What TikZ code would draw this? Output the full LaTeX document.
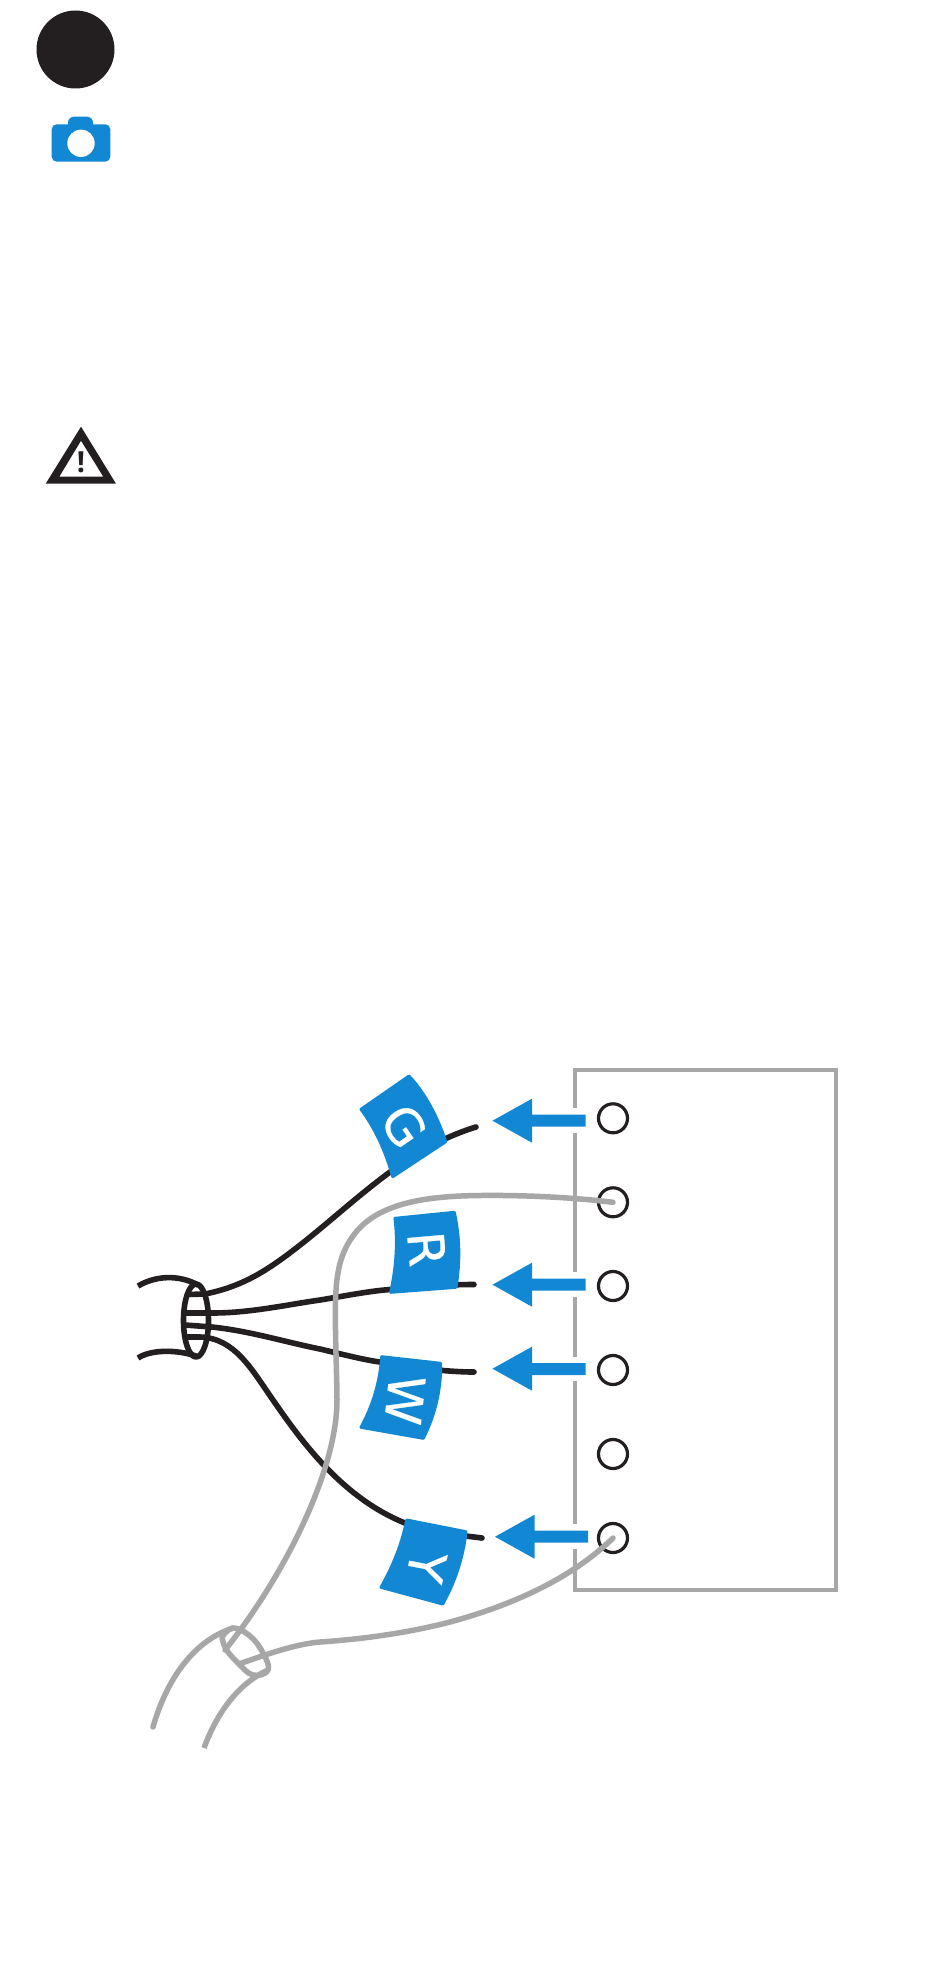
\documentclass[tikz,border=0pt]{standalone}
\usepackage{fontspec}
\setmainfont{Open Sans}
\newfontfamily\tagfont[FakeBold=0.6]{DejaVu Sans}
\definecolor{ink}{HTML}{231F20}
\definecolor{brand}{HTML}{1288D4}
\definecolor{wiregrey}{HTML}{A7A7A7}
\tikzset{
  box line/.style={draw=wiregrey,line width=3.8pt,line join=miter},
  terminal/.style={circle,draw=ink,line width=3.2pt,fill=none,minimum size=29pt,inner sep=0pt},
  black wire/.style={draw=ink,line width=5.6pt,line cap=butt,line join=round},
  grey wire/.style={draw=wiregrey,line width=5.5pt,line cap=round,line join=round},
  tag shape/.style={fill=brand,draw=brand,line width=3pt,line join=round},
  tag text/.style={text=white,inner sep=0pt,font=\tagfont\fontsize{50}{50}\selectfont},
  arrow body/.style={fill=brand,draw=none},
  gap/.style={fill=white,draw=none}
}
\begin{document}
\begin{tikzpicture}[x=1pt,y=-1pt]
\path[use as bounding box,fill=white] (0,0) rectangle (950,1983);

% step badge
\fill[ink] (75.5,49.5) circle (39);
% camera
\fill[brand,rounded corners=5pt] (51.7,124.3) rectangle (110.3,161.7);
\fill[brand,rounded corners=6pt] (68,116.7) rectangle (93,135);
\fill[white] (81,143.3) circle (13.7);
% warning triangle
\fill[ink,even odd rule] (81,426.7) -- (116,483.7) -- (45.7,483.7) -- cycle
  (81,440.7) -- (103.3,476.7) -- (59.3,476.7) -- cycle;
\node[text=ink,inner sep=0pt,font=\fontsize{29}{29}\selectfont\bfseries] (warn) at (81,462) {!};

% thermostat box
\draw[box line] (575,1070) rectangle (836,1589.7);
\fill[gap] (569,1108.3) rectangle (581,1133.3);
\fill[gap] (569,1272.3) rectangle (581,1297.3);
\fill[gap] (569,1356.7) rectangle (581,1381);
\fill[gap] (569,1524.3) rectangle (581,1549.3);

% terminals
\node[terminal] (t1) at (613,1118.3) {};
\node[terminal] (t2) at (613,1202.3) {};
\node[terminal] (t3) at (613,1286) {};
\node[terminal] (t4) at (613,1370) {};
\node[terminal] (t5) at (613,1454) {};
\node[terminal] (t6) at (613,1538) {};

% black bundle
\draw[black wire] (196,1320.5) ellipse (12.5 and 36.5);
\draw[black wire] (138,1286) .. controls (155,1276) and (178,1274) .. (198,1285);
\draw[black wire] (138,1358) .. controls (150,1350) and (175,1349) .. (196,1356);
\coordinate (gend) at (476,1127);
\coordinate (rend) at (474,1284.5);
\coordinate (wend) at (474,1372);
\coordinate (yend) at (482,1538);
\draw[black wire] (187,1294.5) -- (205,1294) .. controls (240,1287) and (262,1273) .. (283,1258) .. controls (320,1231) and (352,1200) .. (390,1172) .. controls (410,1157) and (440,1138) .. (gend);
\draw[black wire] (185,1313) -- (212,1313) .. controls (250,1313) and (285,1305) .. (320,1300) .. controls (350,1295) and (370,1291) .. (390,1289.5) .. controls (420,1286) and (450,1284.5) .. (rend);
\draw[black wire] (185,1325) -- (212,1327) .. controls (250,1331) and (285,1342) .. (320,1349) .. controls (345,1355) and (365,1360) .. (380,1362) .. controls (410,1367) and (445,1372) .. (wend);
\draw[black wire] (187,1337) -- (200,1337) .. controls (235,1338) and (252,1370) .. (273,1400) .. controls (298,1436) and (340,1497) .. (405,1523) .. controls (430,1533) and (460,1535) .. (yend);
\fill[ink] (gend) circle (2.8) (rend) circle (2.8) (wend) circle (2.8) (yend) circle (2.8);

% grey wires
\draw[grey wire] (t2.center) .. controls (570,1197) and (520,1195) .. (480,1195.5) .. controls (420,1196) and (375,1205) .. (353,1236) .. controls (335,1260) and (335,1290) .. (335.5,1330) .. controls (336,1360) and (337,1385) .. (337,1400) .. controls (337,1470) and (285,1575) .. (225,1650);
\draw[grey wire] (t6.center) .. controls (575,1575) and (520,1603) .. (450,1622) .. controls (400,1635) and (350,1640) .. (320,1642) .. controls (295,1644) and (265,1655) .. (241.7,1663);
\draw[grey wire] plot[smooth,tension=0.7] coordinates {(222,1637) (233,1628) (250,1636) (263,1653) (268,1670) (253,1675) (238,1663) (226,1649) (222,1637)};
\draw[grey wire] (153,1727) .. controls (165,1685) and (190,1642) .. (233,1628);
\draw[grey wire,line cap=butt] (204,1748) .. controls (215,1718) and (235,1685) .. (268,1670);

% tags
\path[tag shape] (361,1109.3) -- (409,1076) .. controls (424,1092) and (437,1115) .. (445.7,1141.7) -- (392.7,1176.7) .. controls (386,1152) and (375,1128) .. (361,1109.3) -- cycle;
\node[tag text,rotate=-55.5] (tagG) at (404,1126) {G};
\path[tag shape] (395,1218.3) -- (454.3,1212.3) .. controls (460,1238) and (460,1262) .. (456,1287.3) -- (390.7,1292.3) .. controls (396,1268) and (398,1244) .. (395,1218.3) -- cycle;
\node[tag text,rotate=-85] (tagR) at (426.7,1249) {R};
\path[tag shape] (381.7,1356.7) -- (440.7,1363.3) .. controls (441,1390) and (435,1415) .. (423.3,1438.3) -- (361,1427.3) .. controls (373,1405) and (380,1382) .. (381.7,1356.7) -- cycle;
\node[tag text,rotate=-96] (tagW) at (405,1400) {W};
\path[tag shape] (406.7,1520) -- (466,1531.7) .. controls (463,1558) and (455,1582) .. (442.7,1604) -- (381,1587.3) .. controls (393,1566) and (402,1544) .. (406.7,1520) -- cycle;
\node[tag text,rotate=-101] (tagY) at (426.7,1566.7) {Y};

% arrows
\fill[arrow body] (585.7,1114.7) -- (532,1114.7) -- (532,1098.7) -- (492.5,1120.7) -- (532,1142.7) -- (532,1126.7) -- (585.7,1126.7) -- cycle;
\fill[arrow body] (585.7,1278.7) -- (532,1278.7) -- (532,1262.7) -- (492.5,1284.7) -- (532,1306.7) -- (532,1290.7) -- (585.7,1290.7) -- cycle;
\fill[arrow body] (585.7,1363) -- (532,1363) -- (532,1346.7) -- (492.5,1368.7) -- (532,1390.7) -- (532,1375) -- (585.7,1375) -- cycle;
\fill[arrow body] (588,1530.7) -- (534.5,1530.7) -- (534.5,1514.7) -- (495,1536.7) -- (534.5,1558.7) -- (534.5,1542.7) -- (588,1542.7) -- cycle;
\end{tikzpicture}
\end{document}
